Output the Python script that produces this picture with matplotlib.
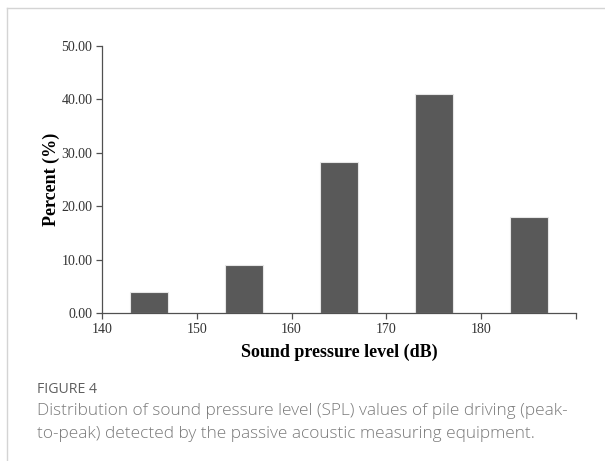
import matplotlib.pyplot as plt
from matplotlib.lines import Line2D

# SPL bins (dB) and percent of pile-driving strikes
spl_centers = [145, 155, 165, 175, 185]
percent = [3.9, 9.0, 28.2, 41.1, 17.9]
x_ticks = [140, 150, 160, 170, 180, 190]
x_tick_labels = ["140", "150", "160", "170", "180", ""]
y_ticks = [0, 10, 20, 30, 40, 50]

fig = plt.figure(figsize=(6.05, 4.61), dpi=100)
ax = fig.add_axes([0.1686, 0.321, 0.7834, 0.5792])

ax.bar(spl_centers, percent, width=4, color="#595959", edgecolor="#e6e6e6", linewidth=0.8)

ax.set_xlim(140, 190)
ax.set_ylim(0, 50)
ax.set_xticks(x_ticks)
ax.set_xticklabels(x_tick_labels)
ax.set_yticks(y_ticks)
ax.set_yticklabels([f"{v:.2f}" for v in y_ticks])

serif = "Liberation Serif"
for lab in ax.get_xticklabels() + ax.get_yticklabels():
    lab.set_fontfamily(serif)
    lab.set_fontsize(10)
    lab.set_color("#333333")

ax.set_xlabel("Sound pressure level (dB)", fontfamily=serif, fontweight="bold",
              fontsize=13, labelpad=6)
ax.set_ylabel("Percent (%)", fontfamily=serif, fontweight="bold", fontsize=13, labelpad=1)

for s in ["top", "right"]:
    ax.spines[s].set_visible(False)
for s in ["left", "bottom"]:
    ax.spines[s].set_color("#505050")
    ax.spines[s].set_linewidth(0.9)
ax.tick_params(length=4, width=0.9, color="#505050", pad=3)

# card border
fig.add_artist(Line2D([7/605, 7/605], [0, 1 - 8/461], color="#d4d4d4", lw=1))
fig.add_artist(Line2D([7/605, 1], [1 - 8/461, 1 - 8/461], color="#d4d4d4", lw=1))

# caption
fig.text(37/605, 1 - 393/461, "FIGURE 4", fontfamily="Open Sans", fontsize=10.2,
         color="#5f5f5f", va="baseline")
cap_lines = ["Distribution of sound pressure level (SPL) values of pile driving (peak-",
             "to-peak) detected by the passive acoustic measuring equipment."]
for i, line in enumerate(cap_lines):
    fig.text(37/605, 1 - (415 + 23 * i)/461, line, fontfamily="Open Sans",
             fontweight="light", fontsize=12.4, color="#7a7a7a", va="baseline")

fig.savefig("out.png", dpi=100)
